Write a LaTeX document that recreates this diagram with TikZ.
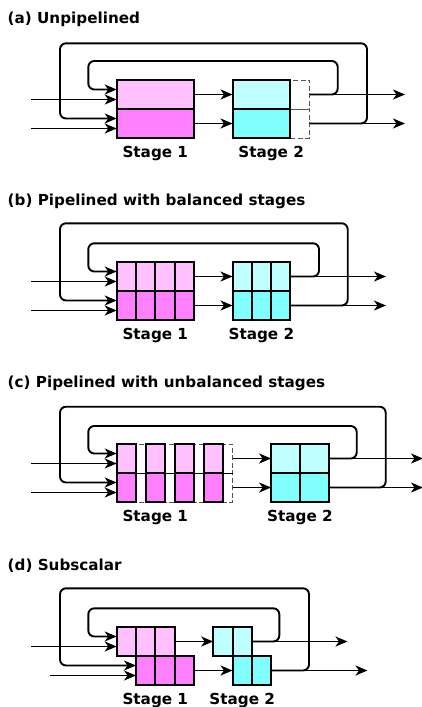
\documentclass[tikz,border=0pt]{standalone}
\usepackage{fontspec}
\setmainfont{DejaVu Sans}
\usetikzlibrary{arrows.meta}
\definecolor{sAup}{HTML}{FFC0FF}
\definecolor{sAlo}{HTML}{FF80FF}
\definecolor{sBup}{HTML}{C0FFFF}
\definecolor{sBlo}{HTML}{80FFFF}
\definecolor{dashgray}{HTML}{555555}
\begin{document}
\begin{tikzpicture}[x=1pt,y=-1pt,
  cell/.style={draw=black, line width=2pt, inner sep=0pt, outer sep=0pt, minimum height=29pt, anchor=north west},
  slot/.style={draw=dashgray, line width=0.9pt, dash pattern=on 5pt off 2.5pt, inner sep=0pt, outer sep=0pt, minimum height=29pt, anchor=north west},
  conn/.style={line width=1.9pt, -{Stealth[length=12pt,width=10pt,inset=3.5pt]}},
  loopline/.style={conn, rounded corners=6pt},
  title/.style={anchor=base west, inner sep=0pt, font=\fontsize{15.2}{18}\selectfont\bfseries},
  stagelabel/.style={anchor=base, inner sep=0pt, font=\fontsize{15.2}{18}\selectfont\bfseries},
]
\useasboundingbox (0,0) rectangle (422,707);

% ---------------- (a) Unpipelined ----------------
\node[title] (ta) at (7.5,23.5) {(a) Unpipelined};
\node[slot, minimum width=19.3pt] (a2ux) at (290.4,80) {};
\node[slot, minimum width=19.3pt] (a2lx) at (290.4,109) {};
\node[cell, fill=sAup, minimum width=77.2pt] (a1u) at (116.7,80) {};
\node[cell, fill=sAlo, minimum width=77.2pt] (a1l) at (116.7,109) {};
\node[cell, fill=sBup, minimum width=57.9pt] (a2u) at (232.5,80) {};
\node[cell, fill=sBlo, minimum width=57.9pt] (a2l) at (232.5,109) {};
\node[stagelabel] (la1) at (155.3,157) {Stage 1};
\node[stagelabel] (la2) at (271.1,157) {Stage 2};
\coordinate (ain1) at (31,99.5);
\coordinate (ain2) at (31,128.5);
\coordinate (aout1) at (405,94.5);
\coordinate (aout2) at (405,123.5);
\coordinate (aiT) at (88.3,61);
\coordinate (aoT) at (60,43.3);
\draw[conn] (ain1) -- (ain1 -| a1u.west);
\draw[conn] (ain2) -- (ain2 -| a1l.west);
\draw[conn] (a1u.east) -- (a2u.west);
\draw[conn] (a1l.east) -- (a2l.west);
\draw[conn] (a2ux.east) -- (aout1);
\draw[conn] (a2lx.east) -- (aout2);
\draw[loopline] (a2ux.east) -- ++(28,0) |- (aiT) |- ([yshift=5pt]a1u.west);
\draw[loopline] (a2lx.east) -- ++(57.3,0) |- (aoT) |- ([yshift=5pt]a1l.west);

% ---------------- (b) Balanced stages ----------------
\node[title] (tb) at (7.5,205.5) {(b) Pipelined with balanced stages};
\foreach \i in {1,...,4} {
  \node[cell, fill=sAup, minimum width=19.3pt] (b1u\i) at ({116.7+(\i-1)*19.3},262) {};
  \node[cell, fill=sAlo, minimum width=19.3pt] (b1l\i) at ({116.7+(\i-1)*19.3},291) {};
}
\foreach \i in {1,...,3} {
  \node[cell, fill=sBup, minimum width=19.3pt] (b2u\i) at ({232.5+(\i-1)*19.3},262) {};
  \node[cell, fill=sBlo, minimum width=19.3pt] (b2l\i) at ({232.5+(\i-1)*19.3},291) {};
}
\node[stagelabel] (lb1) at (155.3,339) {Stage 1};
\node[stagelabel] (lb2) at (261.4,339) {Stage 2};
\coordinate (bin1) at (31,281.5);
\coordinate (bin2) at (31,310.5);
\coordinate (bout1) at (386,276.5);
\coordinate (bout2) at (386,305.5);
\coordinate (biT) at (88.3,243.3);
\coordinate (boT) at (60,223.3);
\draw[conn] (bin1) -- (bin1 -| b1u1.west);
\draw[conn] (bin2) -- (bin2 -| b1l1.west);
\draw[conn] (b1u4.east) -- (b2u1.west);
\draw[conn] (b1l4.east) -- (b2l1.west);
\draw[conn] (b2u3.east) -- (bout1);
\draw[conn] (b2l3.east) -- (bout2);
\draw[loopline] (b2u3.east) -- ++(28.6,0) |- (biT) |- ([yshift=5pt]b1u1.west);
\draw[loopline] (b2l3.east) -- ++(57.3,0) |- (boT) |- ([yshift=5pt]b1l1.west);

% ---------------- (c) Unbalanced stages ----------------
\node[title] (tc) at (7.5,387.5) {(c) Pipelined with unbalanced stages};
\node[slot, minimum width=115.8pt, minimum height=58pt] (c1frame) at (116.7,444) {};
\draw[line width=0.9pt] (c1frame.west) -- (c1frame.east);
\foreach \i in {1,...,4} {
  \node[cell, fill=sAup, minimum width=19.3pt] (c1u\i) at ({116.7+(\i-1)*28.95},444) {};
  \node[cell, fill=sAlo, minimum width=19.3pt] (c1l\i) at ({116.7+(\i-1)*28.95},473) {};
}
\foreach \i in {1,2} {
  \node[cell, fill=sBup, minimum width=28.95pt] (c2u\i) at ({271.1+(\i-1)*28.95},444) {};
  \node[cell, fill=sBlo, minimum width=28.95pt] (c2l\i) at ({271.1+(\i-1)*28.95},473) {};
}
\node[stagelabel] (lc1) at (155.3,521) {Stage 1};
\node[stagelabel] (lc2) at (300,521) {Stage 2};
\coordinate (cin1) at (31,463.5);
\coordinate (cin2) at (31,492.5);
\coordinate (cout1) at (423,458.5);
\coordinate (cout2) at (423,487.5);
\coordinate (ciT) at (88.3,426);
\coordinate (coT) at (60,406.7);
\draw[conn] (cin1) -- (cin1 -| c1u1.west);
\draw[conn] (cin2) -- (cin2 -| c1l1.west);
\draw[conn] (c1frame.east |- c2u1.west) -- (c2u1.west);
\draw[conn] (c1frame.east |- c2l1.west) -- (c2l1.west);
\draw[conn] (c2u2.east) -- (cout1);
\draw[conn] (c2l2.east) -- (cout2);
\draw[loopline] (c2u2.east) -- ++(27.7,0) |- (ciT) |- ([yshift=5pt]c1u1.west);
\draw[loopline] (c2l2.east) -- ++(56.7,0) |- (coT) |- ([yshift=5pt]c1l1.west);

% ---------------- (d) Subscalar ----------------
\node[title] (td) at (7.5,570.5) {(d) Subscalar};
\foreach \i in {1,...,3} {
  \node[cell, fill=sAup, minimum width=19.3pt] (d1u\i) at ({116.7+(\i-1)*19.3},627) {};
  \node[cell, fill=sAlo, minimum width=19.3pt] (d1l\i) at ({136+(\i-1)*19.3},656) {};
}
\foreach \i in {1,2} {
  \node[cell, fill=sBup, minimum width=19.3pt] (d2u\i) at ({213.2+(\i-1)*19.3},627) {};
  \node[cell, fill=sBlo, minimum width=19.3pt] (d2l\i) at ({232.5+(\i-1)*19.3},656) {};
}
\node[stagelabel] (ld1) at (155.3,704) {Stage 1};
\node[stagelabel] (ld2) at (242.2,704) {Stage 2};
\coordinate (din1) at (31,646.5);
\coordinate (din2) at (50.3,675.5);
\coordinate (dout1) at (347.5,641.5);
\coordinate (dout2) at (367.5,670.5);
\coordinate (diT) at (88.3,608.3);
\coordinate (doT) at (60,588.3);
\draw[conn] (din1) -- (din1 -| d1u1.west);
\draw[conn] (din2) -- (din2 -| d1l1.west);
\draw[conn] (d1u3.east) -- (d2u1.west);
\draw[conn] (d1l3.east) -- (d2l1.west);
\draw[conn] (d2u2.east) -- (dout1);
\draw[conn] (d2l2.east) -- (dout2);
\draw[loopline] (d2u2.east) -- ++(27.5,0) |- (diT) |- ([yshift=5pt]d1u1.west);
\draw[loopline] (d2l2.east) -- ++(37.9,0) |- (doT) |- ([yshift=5pt]d1l1.west);
\end{tikzpicture}
\end{document}
